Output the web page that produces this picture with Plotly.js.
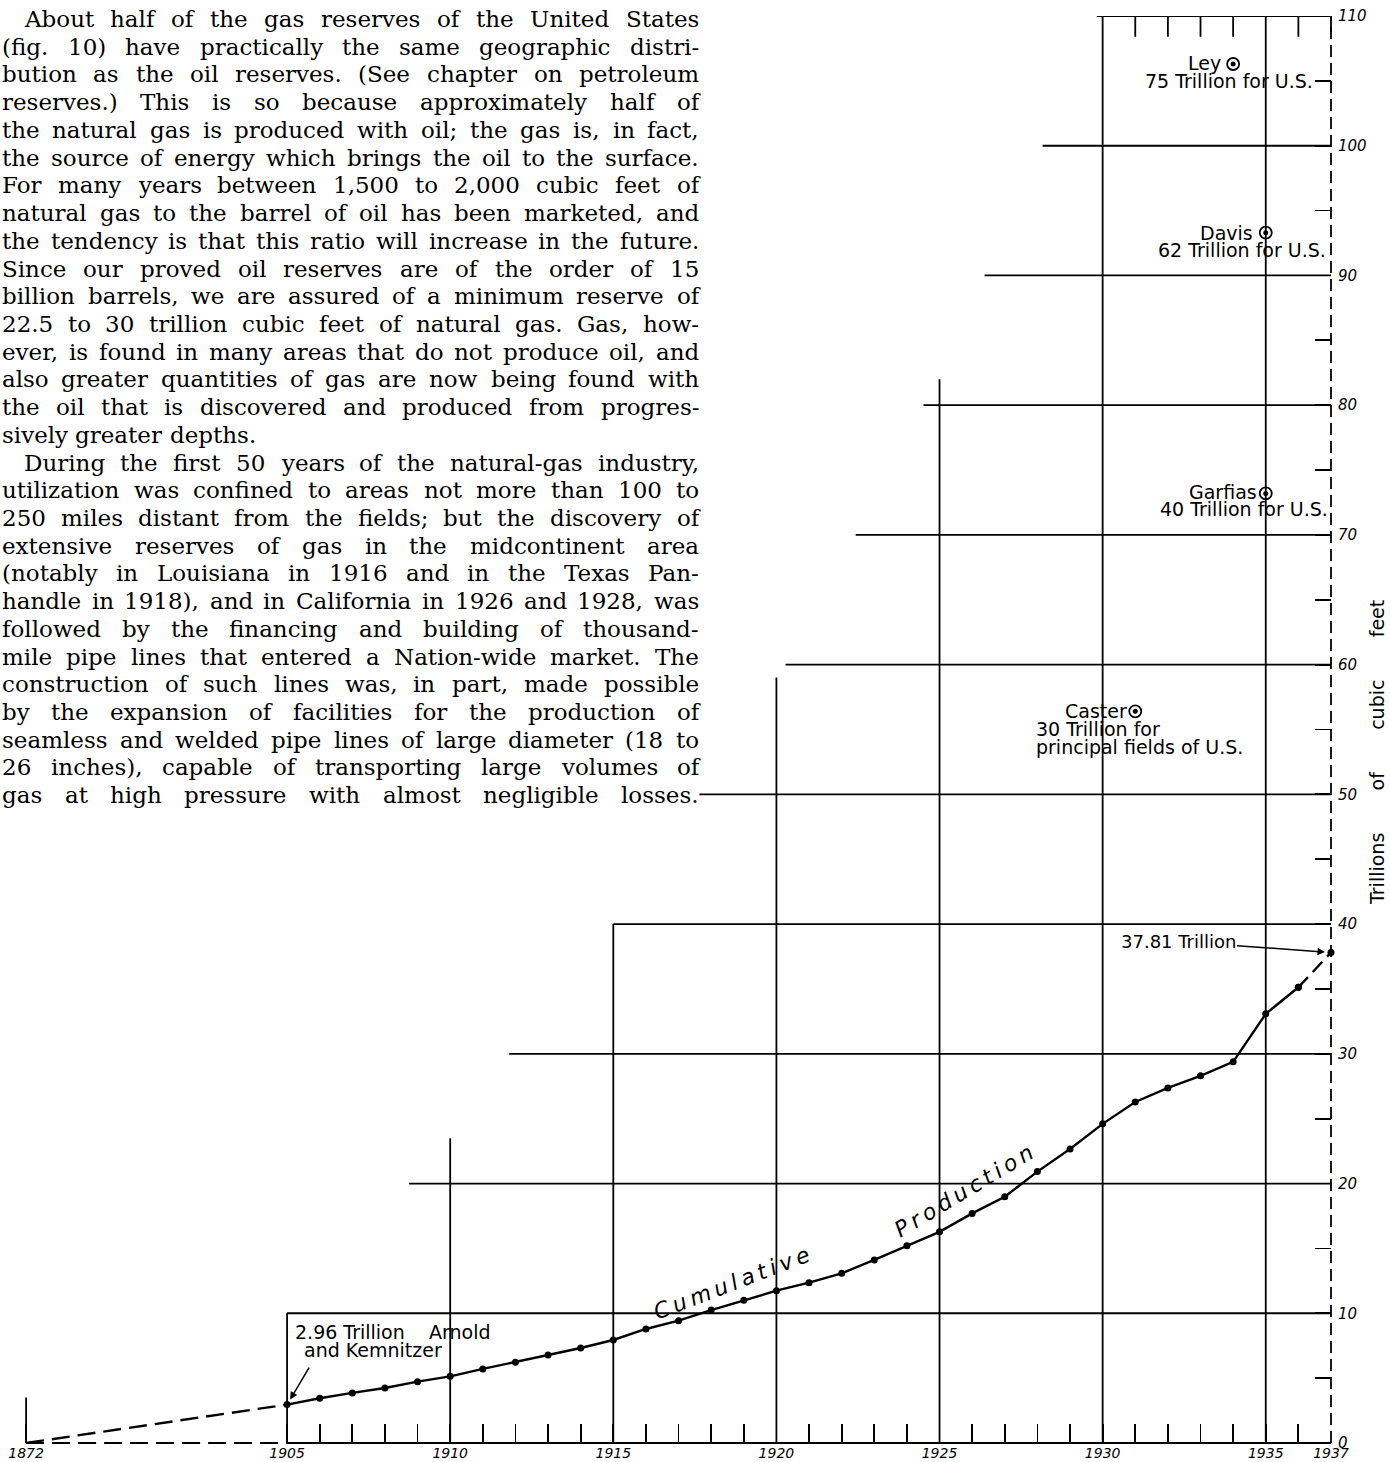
<!DOCTYPE html>
<html><head><meta charset="utf-8">
<script src="https://cdn.plot.ly/plotly-3.0.1.min.js"></script>
<style>html,body{margin:0;padding:0;background:#fff;} #chart{width:1390px;height:1462px;}</style>
</head><body><div id="chart"></div>
<script>
// ---------------- data ----------------
const years = [1872,1905,1906,1907,1908,1909,1910,1911,1912,1913,1914,1915,1916,1917,1918,1919,1920,
  1921,1922,1923,1924,1925,1926,1927,1928,1929,1930,1931,1932,1933,1934,1935,1936,1937];
const cumulative = [0,2.96,3.45,3.86,4.24,4.73,5.14,5.71,6.22,6.78,7.32,7.94,8.79,9.43,10.25,11.0,11.74,
  12.36,13.08,14.11,15.2,16.28,17.7,18.98,20.92,22.67,24.6,26.29,27.37,28.3,29.38,33.08,35.13,37.81];

const estimateNames = ['Ley','Davis','Garfias','Caster'];
const estimateYears = [1934,1935,1935,1931];
const estimateMarkY = [106.3,93.3,73.2,56.4];
const estimateTexts = ['75 Trillion for U.S.','62 Trillion for U.S.','40 Trillion for U.S.','30 Trillion for','principal fields of U.S.'];

const yearTickYears = [1872,1905,1910,1915,1920,1925,1930,1935,1937];
const yearTickLabels = ['1872','1905','1910','1915','1920','1925','1930','1935','1937'];
const valueTicks = [0,10,20,30,40,50,60,70,80,90,100,110];
const valueTickLabels = ['0','10','20','30','40','50','60','70','80','90','100','110'];

const gridValues = [10,20,30,40,50,60,70,80,90,100,110];
const gridStartYears = [1905,1908.74,1911.81,1915,1917.64,1920.28,1922.43,1924.51,1926.38,1928.16,1929.82];
const frameYears = [1905,1910,1915,1920,1925,1930,1935];
const frameTops = [10,23.5,40,59,82,110,110];
const topTickYears = [1931,1932,1933,1934,1936];

const para1 = [
 'About half of the gas reserves of the United States',
 '(fig. 10) have practically the same geographic distri-',
 'bution as the oil reserves. (See chapter on petroleum',
 'reserves.) This is so because approximately half of',
 'the natural gas is produced with oil; the gas is, in fact,',
 'the source of energy which brings the oil to the surface.',
 'For many years between 1,500 to 2,000 cubic feet of',
 'natural gas to the barrel of oil has been marketed, and',
 'the tendency is that this ratio will increase in the future.',
 'Since our proved oil reserves are of the order of 15',
 'billion barrels, we are assured of a minimum reserve of',
 '22.5 to 30 trillion cubic feet of natural gas. Gas, how-',
 'ever, is found in many areas that do not produce oil, and',
 'also greater quantities of gas are now being found with',
 'the oil that is discovered and produced from progres-',
 'sively greater depths.'
];
const para2 = [
 'During the first 50 years of the natural-gas industry,',
 'utilization was confined to areas not more than 100 to',
 '250 miles distant from the fields; but the discovery of',
 'extensive reserves of gas in the midcontinent area',
 '(notably in Louisiana in 1916 and in the Texas Pan-',
 'handle in 1918), and in California in 1926 and 1928, was',
 'followed by the financing and building of thousand-',
 'mile pipe lines that entered a Nation-wide market. The',
 'construction of such lines was, in part, made possible',
 'by the expansion of facilities for the production of',
 'seamless and welded pipe lines of large diameter (18 to',
 '26 inches), capable of transporting large volumes of',
 'gas at high pressure with almost negligible losses.'
];

// ---------------- helpers ----------------
const BREAK = 8/33;                         // compressed axis before 1905
function xPos(y){ return y >= 1905 ? y : 1905 - (1905 - y) * BREAK; }
const L = 0, R = 59, T = 16, B = 19, W = 1390, H = 1462;
const PW = W - L - R, PH = H - T - B;
function fx(px){ return (px - L) / PW; }
function fy(py){ return (H - B - py) / PH; }

// ---------------- traces ----------------
const xs = years.map(xPos);
const BLACK = '#000';
const traces = [
  {x: xs.slice(0,2), y: cumulative.slice(0,2), mode:'lines', cliponaxis:false,
   line:{color:BLACK, width:2.4, dash:'18px,8px'}, hoverinfo:'skip'},
  {x: xs.slice(1,33), y: cumulative.slice(1,33), mode:'lines+markers', cliponaxis:false,
   line:{color:BLACK, width:2.4}, marker:{color:BLACK, size:7}},
  {x: xs.slice(32), y: cumulative.slice(32), mode:'lines+markers', cliponaxis:false,
   line:{color:BLACK, width:2.4, dash:'14px,7px'}, marker:{color:BLACK, size:7}},
  {x: estimateYears, y: estimateMarkY, mode:'markers', cliponaxis:false,
   marker:{symbol:'circle-open', size:12, color:BLACK, line:{width:1.8, color:BLACK}}},
  {x: estimateYears, y: estimateMarkY, mode:'markers', cliponaxis:false,
   marker:{symbol:'circle', size:5, color:BLACK}}
];

// ---------------- shapes ----------------
const shapes = [];
const gw = 1.8;
gridValues.forEach((v,i)=>{
  shapes.push({type:'line', xref:'x', yref:'y', x0:gridStartYears[i], x1:1937, y0:v, y1:v,
    line:{color:BLACK, width:gw}});
});
frameYears.forEach((yr,i)=>{
  shapes.push({type:'line', xref:'x', yref:'y', x0:yr, x1:yr, y0:0, y1:frameTops[i],
    line:{color:BLACK, width:gw}});
});
shapes.push({type:'line', xref:'x', yref:'paper', x0:1905, x1:1937, y0:0, y1:0, line:{color:BLACK, width:gw}});
shapes.push({type:'line', xref:'x', yref:'paper', x0:xPos(1872), x1:1905, y0:0, y1:0, line:{color:BLACK, width:gw, dash:'18px,8px'}});
shapes.push({type:'line', xref:'x', yref:'y', x0:xPos(1872), x1:xPos(1872), y0:0, y1:3.5, line:{color:BLACK, width:gw}});
shapes.push({type:'line', xref:'paper', yref:'y', x0:1, x1:1, y0:0, y1:110, line:{color:BLACK, width:gw, dash:'12px,6px'}});
shapes.push({type:'line', xref:'paper', yref:'y', x0:1, x1:1, y0:108.8, y1:110, line:{color:BLACK, width:gw}});
topTickYears.forEach(yr=>{
  shapes.push({type:'line', xref:'x', yref:'y', x0:yr, x1:yr, y0:110, y1:108.4, line:{color:BLACK, width:gw}});
});

// ---------------- annotations ----------------
const ann = [];
const SANS = 'DejaVu Sans';
const LS = 19;
function label(text, px, py, anchor, size){
  ann.push({xref:'paper', yref:'paper', x:fx(px), y:fy(py), xanchor:anchor, yanchor:'middle',
    text:text, showarrow:false, borderpad:0, font:{family:SANS, size:size||LS, color:BLACK}});
}
label(estimateNames[0], 1222, 63, 'right');  label(estimateTexts[0], 1314, 81, 'right');
label(estimateNames[1], 1254, 233, 'right'); label(estimateTexts[1], 1327, 250, 'right');
label(estimateNames[2], 1258, 492, 'right'); label(estimateTexts[2], 1329, 509, 'right');
label(estimateNames[3], 1128, 711, 'right'); label(estimateTexts[3], 1035, 729, 'left');
label(estimateTexts[4], 1035, 747, 'left');
label('2.96 Trillion', 294, 1332, 'left');
label('Arnold', 428, 1332, 'left');
label('and Kemnitzer', 303, 1350, 'left');
ann.push({xref:'x', yref:'y', x:1905, y:cumulative[1], text:' ', showarrow:true, axref:'pixel', ayref:'pixel',
  ax:25, ay:-42, arrowhead:2, arrowsize:1, arrowwidth:1.5, arrowcolor:BLACK, standoff:6});
ann.push({xref:'x', yref:'y', x:1937, y:cumulative[33], text:'37.81 Trillion', showarrow:true,
  ax:-153, ay:-11, arrowhead:2, arrowsize:1, arrowwidth:1.5, arrowcolor:BLACK, standoff:6,
  font:{family:SANS, size:18, color:BLACK}});
const sp = '\u2009';
ann.push({xref:'paper', yref:'paper', x:fx(731), y:fy(1283), xanchor:'center', yanchor:'middle',
  text:'Cumulative'.split('').join(sp), textangle:-21, showarrow:false,
  font:{family:SANS, size:22, style:'italic', color:BLACK}});
ann.push({xref:'paper', yref:'paper', x:fx(963), y:fy(1191), xanchor:'center', yanchor:'middle',
  text:'Production'.split('').join(sp), textangle:-31, showarrow:false,
  font:{family:SANS, size:22, style:'italic', color:BLACK}});
const nb = '\u00a0'.repeat(7);
ann.push({xref:'paper', yref:'paper', x:fx(1377), y:fy(753), xanchor:'center', yanchor:'middle',
  text:'Trillions'+nb+'of'+nb+'cubic'+nb+'feet', textangle:-90, showarrow:false,
  font:{family:SANS, size:19, color:BLACK}});

// paragraph text, justified word by word
const SERIF = 'DejaVu Serif';
const cv = document.createElement('canvas').getContext('2d');
function measure(t, s){ cv.font = s + "px '" + SERIF + "'"; return cv.measureText(t).width; }
const colLeft = 1, colRight = 698, indent = 22, base0 = 27, lead = 27.72;
const allLines = [];
para1.forEach((t,i)=>allLines.push({t, ind:i===0, just:i!==para1.length-1}));
para2.forEach((t,i)=>allLines.push({t, ind:i===0, just:true}));
const fits = allLines.filter(l=>l.just).map(l=>{
  const avail = colRight - colLeft - (l.ind ? indent : 0);
  return 20 * avail * 0.985 / measure(l.t, 20);
}).sort((a,b)=>a-b);
const FS = Math.min(23, fits[Math.floor(fits.length/2)]);
allLines.forEach((ln,n)=>{
  const words = ln.t.split(' ');
  let size = FS;
  const left = colLeft + (ln.ind ? indent : 0);
  const avail = colRight - left;
  let widths = words.map(w=>measure(w,size));
  let sum = widths.reduce((a,b)=>a+b,0);
  while (sum + (words.length-1)*4 > avail && size > 12){
    size -= 0.2; widths = words.map(w=>measure(w,size)); sum = widths.reduce((a,b)=>a+b,0);
  }
  const gap = ln.just ? (avail - sum)/(words.length-1) : measure(' ', size);
  const baseline = base0 + lead*n;
  let x = left;
  words.forEach((w,i)=>{
    ann.push({xref:'paper', yref:'paper', x:fx(x), y:fy(baseline - 0.346*size), xanchor:'left', yanchor:'middle',
      text:w, showarrow:false, borderpad:0, font:{family:SERIF, size:size, color:BLACK}});
    x += widths[i] + gap;
  });
});

// ---------------- layout ----------------
const xTickVals = [], xTickText = [];
xTickVals.push(xPos(1872)); xTickText.push(yearTickLabels[0]);
for (let y = 1905; y <= 1937; y++){
  xTickVals.push(y);
  const k = yearTickYears.indexOf(y);
  xTickText.push(k >= 0 ? yearTickLabels[k] : '');
}
const yTickVals = [], yTickText = [];
for (let v = 0; v <= 110; v += 5){
  yTickVals.push(v);
  const k = valueTicks.indexOf(v);
  yTickText.push(k >= 0 ? valueTickLabels[k] : '');
}

const layout = {
  width:W, height:H, margin:{l:L, r:R, t:T, b:B, pad:0},
  paper_bgcolor:'#fff', plot_bgcolor:'#fff', showlegend:false,
  xaxis:{range:[1896.2,1937], showgrid:false, zeroline:false, showline:false,
    tickmode:'array', tickvals:xTickVals, ticktext:xTickText, ticks:'inside', ticklen:19, tickwidth:1.8,
    tickcolor:BLACK, ticklabelstandoff:0,
    tickfont:{family:'DejaVu Sans', size:14, style:'italic', color:BLACK}},
  yaxis:{range:[0,110], side:'right', showgrid:false, zeroline:false, showline:false,
    tickmode:'array', tickvals:yTickVals, ticktext:yTickText, ticks:'inside', ticklen:16, tickwidth:1.8,
    tickcolor:BLACK, ticklabelstandoff:6,
    tickfont:{family:'DejaVu Sans', size:15, style:'italic', color:BLACK}},
  shapes:shapes, annotations:ann
};
Plotly.newPlot('chart', traces, layout, {displayModeBar:false, staticPlot:true});
</script></body></html>
